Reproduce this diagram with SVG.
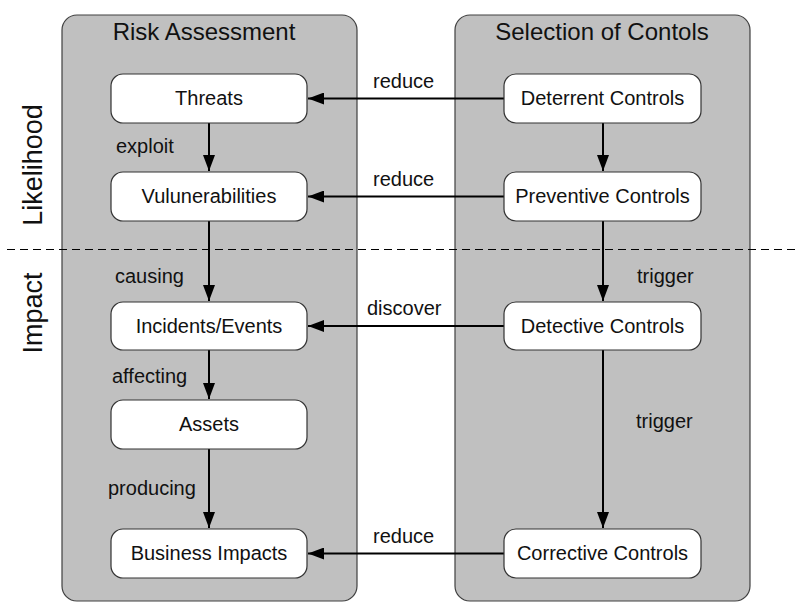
<svg xmlns="http://www.w3.org/2000/svg" width="795" height="603" viewBox="0 0 795 603">
<defs>
<marker id="ah" markerWidth="16" markerHeight="12" refX="16" refY="6" orient="auto" markerUnits="userSpaceOnUse">
<path d="M0,0 L16,6 L0,12 Z" fill="#000"/>
</marker>
<style>
.panel{fill:#c0c0c0;stroke:#404040;stroke-width:1.2}
.node{fill:#fff;stroke:#333;stroke-width:1.2}
text{font-family:"Liberation Sans",Arial,sans-serif;fill:#111}
.nt{font-size:20px;text-anchor:middle}
.lbl{font-size:20px}
.title{font-size:24px;text-anchor:middle}
.side{font-size:27px;text-anchor:middle}
.edge{stroke:#000;stroke-width:2;fill:none;marker-end:url(#ah)}
</style>
</defs>
<rect width="795" height="603" fill="#fff"/>
<g id="panel-risk">
<rect class="panel" x="62" y="15" width="295" height="586" rx="15"/>
<text class="title" x="204" y="40">Risk Assessment</text>
</g>
<g id="panel-controls">
<rect class="panel" x="455" y="15" width="295" height="586" rx="15"/>
<text class="title" x="602" y="40">Selection of Contols</text>
</g>
<g id="axis">
<line x1="7" y1="249.5" x2="795" y2="249.5" stroke="#000" stroke-width="1.2" stroke-dasharray="8,5"/>
<text class="side" transform="translate(42,165) rotate(-90)">Likelihood</text>
<text class="side" transform="translate(42,313) rotate(-90)">Impact</text>
</g>
<g id="connectors">
<line class="edge" x1="209" y1="123" x2="209" y2="171"/>
<line class="edge" x1="209" y1="221" x2="209" y2="301"/>
<line class="edge" x1="209" y1="350" x2="209" y2="399"/>
<line class="edge" x1="209" y1="449" x2="209" y2="528"/>
<line class="edge" x1="603" y1="123" x2="603" y2="171"/>
<line class="edge" x1="603" y1="221" x2="603" y2="301"/>
<line class="edge" x1="603" y1="350" x2="603" y2="528"/>
<line class="edge" x1="504" y1="98.5" x2="308" y2="98.5"/>
<line class="edge" x1="504" y1="196.5" x2="308" y2="196.5"/>
<line class="edge" x1="504" y1="326" x2="308" y2="326"/>
<line class="edge" x1="504" y1="553.5" x2="308" y2="553.5"/>
<text class="lbl" x="116" y="153">exploit</text>
<text class="lbl" x="115" y="283">causing</text>
<text class="lbl" x="112" y="383">affecting</text>
<text class="lbl" x="108" y="495">producing</text>
<text class="lbl" x="637" y="283">trigger</text>
<text class="lbl" x="636" y="428">trigger</text>
<text class="lbl" x="373" y="88">reduce</text>
<text class="lbl" x="373" y="186">reduce</text>
<text class="lbl" x="367" y="315">discover</text>
<text class="lbl" x="373" y="543">reduce</text>
</g>
<g id="threats"><rect class="node" x="111" y="74" width="196" height="49" rx="12"/><text class="nt" x="209" y="105">Threats</text></g>
<g id="vulnerabilities"><rect class="node" x="111" y="172" width="196" height="49" rx="12"/><text class="nt" x="209" y="203">Vulunerabilities</text></g>
<g id="incidents"><rect class="node" x="111" y="302" width="196" height="48" rx="12"/><text class="nt" x="209" y="333">Incidents/Events</text></g>
<g id="assets"><rect class="node" x="111" y="400" width="196" height="49" rx="12"/><text class="nt" x="209" y="431">Assets</text></g>
<g id="business-impacts"><rect class="node" x="111" y="529" width="196" height="49" rx="12"/><text class="nt" x="209" y="560">Business Impacts</text></g>
<g id="deterrent"><rect class="node" x="504" y="74" width="197" height="49" rx="12"/><text class="nt" x="602.5" y="105">Deterrent Controls</text></g>
<g id="preventive"><rect class="node" x="504" y="172" width="197" height="49" rx="12"/><text class="nt" x="602.5" y="203">Preventive Controls</text></g>
<g id="detective"><rect class="node" x="504" y="302" width="197" height="48" rx="12"/><text class="nt" x="602.5" y="333">Detective Controls</text></g>
<g id="corrective"><rect class="node" x="504" y="529" width="197" height="49" rx="12"/><text class="nt" x="602.5" y="560">Corrective Controls</text></g>
</svg>
